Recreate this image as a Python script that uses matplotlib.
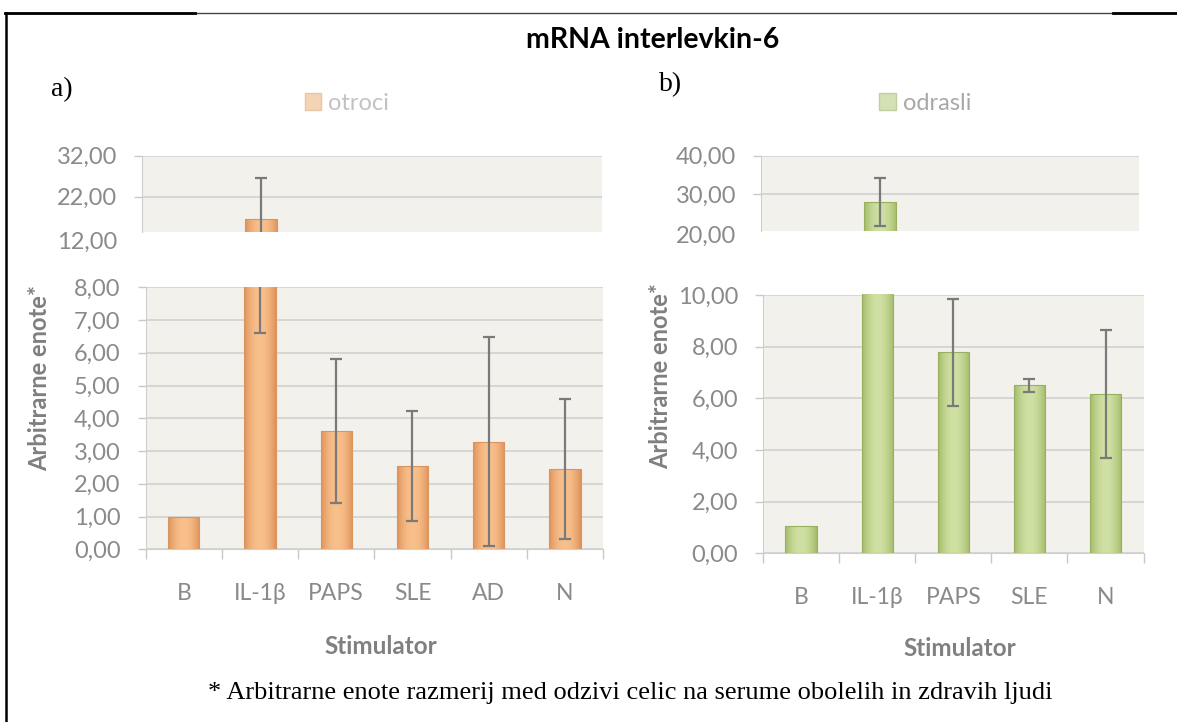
import numpy as np
import matplotlib.pyplot as plt
from matplotlib.patches import Patch
from matplotlib.lines import Line2D
from matplotlib.colors import LinearSegmentedColormap

plt.rcParams['font.family'] = ['Lato', 'DejaVu Sans']

# data
cats_a = ['B', 'IL-1β', 'PAPS', 'SLE', 'AD', 'N']
vals_a = [1.0, 16.55, 3.6, 2.53, 3.29, 2.45]
errs_a = [0.0, 9.95, 2.2, 1.68, 3.19, 2.15]

cats_b = ['B', 'IL-1β', 'PAPS', 'SLE', 'N']
vals_b = [1.05, 27.9, 7.78, 6.5, 6.17]
errs_b = [0.0, 6.2, 2.06, 0.26, 2.48]

W, H = 1177, 722
GRAY = '#8a8a8a'

orange = LinearSegmentedColormap.from_list('o', ['#de925a', '#f9c08c'])
green = LinearSegmentedColormap.from_list('g', ['#a2bb68', '#cfe0a3'])


def box(x0, y0, x1, y1):
    return [x0 / W, 1 - y1 / H, (x1 - x0) / W, (y1 - y0) / H]


def fmt(v):
    return f'{v:.2f}'.replace('.', ',')


def panel(ax, cats, vals, errs, cmap, edge, xlim, ylim, ticks, lower):
    x = np.arange(len(cats))
    bars = ax.bar(x, vals, 0.41, color='none', edgecolor=edge, lw=0.8, zorder=3)
    grad = 1 - np.abs(np.linspace(-1, 1, 64)) ** 2
    for b in bars:
        # gradient fill, kept inside the visible y range of this panel
        y0 = max(0, ylim[0])
        y1 = min(b.get_height(), ylim[1])
        if y1 <= y0:
            continue
        im = ax.imshow(grad[None, :], extent=[b.get_x(), b.get_x() + b.get_width(), y0, y1],
                       aspect='auto', cmap=cmap, vmin=0, vmax=1, zorder=2, interpolation='bilinear')
        im.set_clip_path(b)
    idx = [i for i, e in enumerate(errs) if e > 0]
    ax.errorbar(x[idx], [vals[i] for i in idx], yerr=[errs[i] for i in idx], fmt='none',
                ecolor='#7a7a7a', elinewidth=1.6, capsize=4.3, capthick=1.6, zorder=4)

    ax.set_facecolor('#f2f1ec')
    ax.set_xlim(*xlim)
    ax.set_ylim(*ylim)
    ax.set_yticks(ticks)
    ax.set_yticklabels([fmt(t) for t in ticks])
    ax.yaxis.grid(True, color='#d4d4d4', lw=1.3)
    ax.set_axisbelow(True)
    ax.tick_params(axis='y', length=6, width=1, color='#c8c8c8', pad=12,
                   labelsize=17, labelcolor=GRAY)
    for s in ['top', 'right']:
        ax.spines[s].set_visible(False)
    ax.spines['left'].set_color('#cfcfcf')
    if lower:
        ax.set_xticks(x)
        ax.set_xticklabels(cats)
        ax.tick_params(axis='x', length=0, pad=24, labelsize=16.5, labelcolor=GRAY)
        ax.set_xticks(np.arange(len(cats) + 1) - 0.5, minor=True)
        ax.tick_params(axis='x', which='minor', length=7, width=1, color='#c8c8c8')
        ax.spines['bottom'].set_color('#cfcfcf')
    else:
        ax.set_xticks([])
        ax.spines['bottom'].set_visible(False)


fig = plt.figure(figsize=(W / 100, H / 100), dpi=100)

ul = fig.add_axes(box(142, 155.7, 602, 231.7))
ll = fig.add_axes(box(145.7, 287.3, 603, 549.3))
ur = fig.add_axes(box(761, 155.7, 1138.6, 230.7))
lr = fig.add_axes(box(763, 295, 1143.6, 553.3))

panel(ul, cats_a, vals_a, errs_a, orange, '#d8955e', (-0.514, 5.34), (13.46, 32), [22, 32], False)
panel(ll, cats_a, vals_a, errs_a, orange, '#d8955e', (-0.487, 5.33), (0, 8), range(0, 9), True)
panel(ur, cats_b, vals_b, errs_b, green, '#98af5f', (-0.512, 4.283), (20.42, 40), [30, 40], False)
panel(lr, cats_b, vals_b, errs_b, green, '#98af5f', (-0.495, 4.325), (0, 10), range(0, 11, 2), True)

# bottom labels of the cut-off upper scales
for ax, v in [(ul, 12), (ur, 20)]:
    ax.annotate(fmt(v), xy=(0, v), xycoords=ax.get_yaxis_transform(), xytext=(-18, -3),
                textcoords='offset points', ha='right', va='center', fontsize=17,
                color=GRAY, annotation_clip=False)

fig.text(653 / W, 1 - 40 / H, 'mRNA interlevkin-6', ha='center', va='center',
         fontsize=20.5, fontweight='bold')
fig.text(62 / W, 1 - 90 / H, 'a)', ha='center', va='center', fontsize=20, family='Liberation Serif')
fig.text(671 / W, 1 - 85 / H, 'b)', ha='center', va='center', fontsize=20, family='Liberation Serif')

fig.legend(handles=[Patch(facecolor='#f3d4b5', edgecolor='#e9c6a3')], labels=['otroci'],
           loc='center', bbox_to_anchor=(347 / W, 1 - 103 / H), frameon=False, fontsize=17,
           labelcolor='#c2c2c2', handlelength=0.7, handleheight=0.7, handletextpad=0.3,
           borderpad=0, borderaxespad=0)
fig.legend(handles=[Patch(facecolor='#d3e1b4', edgecolor='#bfd09c')], labels=['odrasli'],
           loc='center', bbox_to_anchor=(925 / W, 1 - 103 / H), frameon=False, fontsize=17,
           labelcolor='#a8a8a8', handlelength=0.7, handleheight=0.7, handletextpad=0.3,
           borderpad=0, borderaxespad=0)

fig.text(40 / W, 1 - 378 / H, 'Arbitrarne enote*', rotation=90, ha='center', va='center',
         fontsize=17, fontweight='bold', color='#7f7f7f')
fig.text(661 / W, 1 - 376 / H, 'Arbitrarne enote*', rotation=90, ha='center', va='center',
         fontsize=17, fontweight='bold', color='#7f7f7f')
fig.text(381 / W, 1 - 646 / H, 'Stimulator', ha='center', va='center',
         fontsize=17.5, fontweight='bold', color='#808080')
fig.text(960 / W, 1 - 648 / H, 'Stimulator', ha='center', va='center',
         fontsize=17.5, fontweight='bold', color='#808080')

fig.text(630 / W, 1 - 693 / H,
         '* Arbitrarne enote razmerij med odzivi celic na serume obolelih in zdravih ljudi',
         ha='center', va='center', fontsize=19, family='Liberation Serif')

# frame around the figure
fig.add_artist(Line2D([5 / W, 1], [1 - 13 / H] * 2, color='#444444', lw=1.0))
fig.add_artist(Line2D([5 / W, 195 / W], [1 - 13 / H] * 2, color='black', lw=2.0))
fig.add_artist(Line2D([1113 / W, 1], [1 - 13 / H] * 2, color='black', lw=2.0))
fig.add_artist(Line2D([6 / W, 6 / W], [1 - 13 / H, 0], color='black', lw=1.8))

fig.savefig('out.png', dpi=100)
